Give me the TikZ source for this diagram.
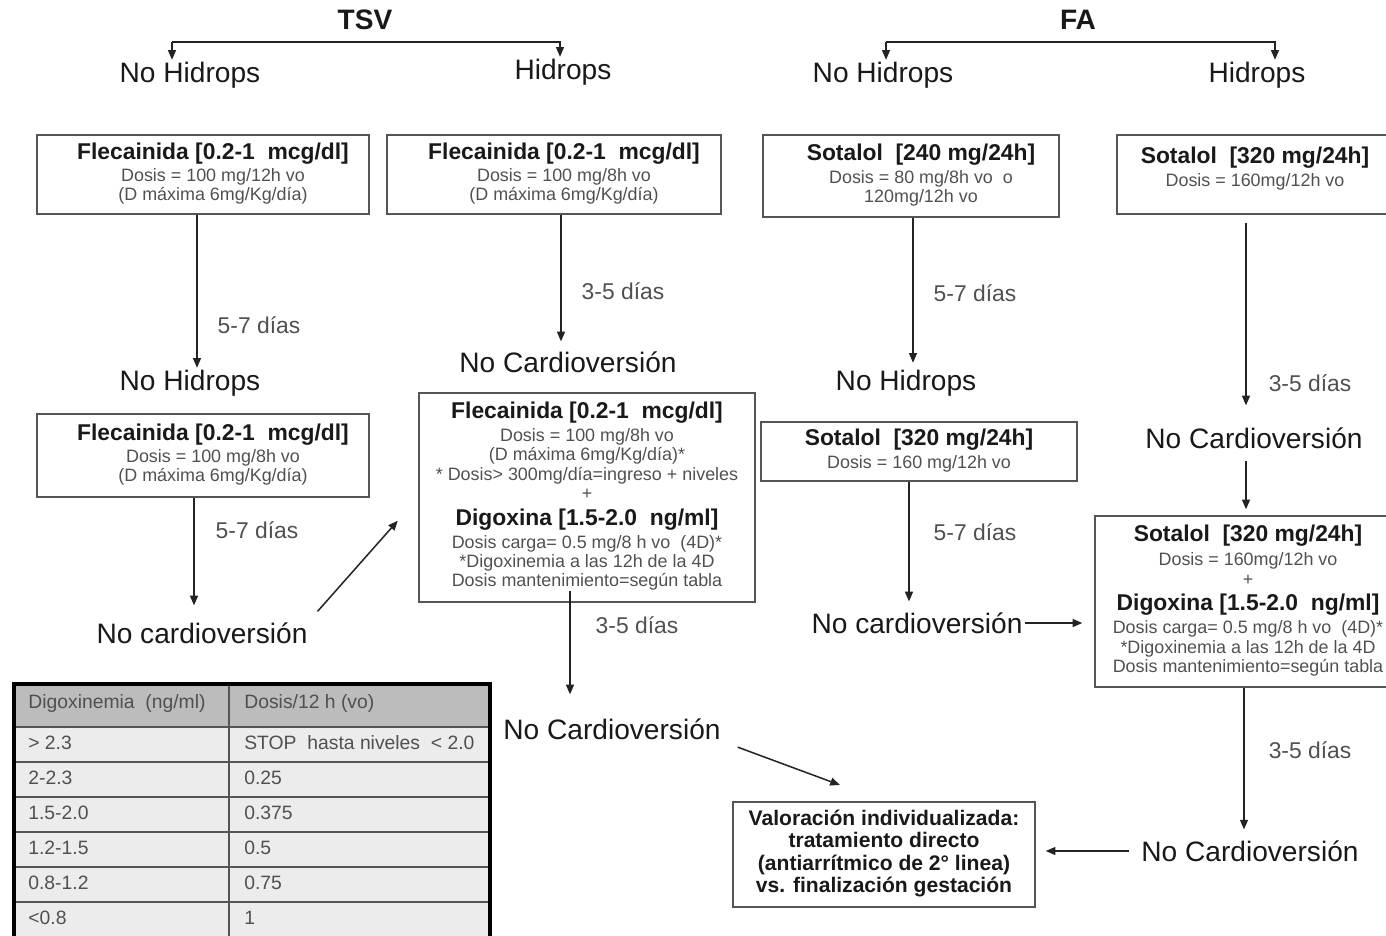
\documentclass[tikz,border=0pt]{standalone}
\usepackage{fontspec}
\setmainfont{Liberation Sans}
\usepackage{xcolor}
\definecolor{colorl}{RGB}{35,35,35}
\definecolor{colorb}{RGB}{85,85,85}
\definecolor{colord}{RGB}{80,80,80}
\definecolor{colork}{RGB}{25,25,25}
\definecolor{colorh}{RGB}{188,188,188}
\definecolor{colorf}{RGB}{236,236,236}
\usepackage{tikz}
\usetikzlibrary{arrows.meta}
\newlength{\px}\setlength{\px}{0.02cm}
\newcommand{\tit}[1]{{\color{colork}\fontsize{13}{15}\selectfont\bfseries #1}}
\newcommand{\bloque}[2][0]{\hspace*{#1\px}\begin{tabular}{@{}c@{}}#2\end{tabular}}
\tikzstyle{caja} = [draw=colorb, line width=1.4\px, inner sep=0pt, text=colord, font=\fontsize{10.2}{11}\selectfont]
\tikzstyle{etiq} = [inner sep=1pt, text=colork, font=\fontsize{16}{18}\selectfont]
\tikzstyle{dias} = [inner sep=1pt, text=colord, font=\fontsize{13}{15}\selectfont]
\tikzstyle{flecha} = [-{Triangle[length=5.5pt,width=4.5pt]}, line width=1.5\px, draw=colorl]
\tikzstyle{celda} = [inner sep=0pt, anchor=west, text=colord, font=\fontsize{11}{13}\selectfont]

\begin{document}
\begin{tikzpicture}[x=0.02cm, y=-0.02cm]
    \useasboundingbox (0,0) rectangle (1386,936);

    % cabeceras
    \node[etiq, font=\fontsize{16}{18}\selectfont\bfseries] (tsv) at (365,20) {TSV};
    \node[etiq, font=\fontsize{16}{18}\selectfont\bfseries] (fa) at (1078,20) {FA};
    \node[etiq] (nh1) at (190,75) {No Hidrops};
    \node[etiq] (h1) at (563,72) {Hidrops};
    \node[etiq] (nh3) at (883,75) {No Hidrops};
    \node[etiq] (h2) at (1257,75) {Hidrops};
    \coordinate (tsvl) at (172,42);
    \coordinate (tsvr) at (560,42);
    \coordinate (fal) at (886,42);
    \coordinate (far) at (1275,42);
    \draw[flecha] (tsvl) -- (tsvl |- nh1.north);
    \draw[flecha] (tsvl) -- (tsvr) -- (tsvr |- h1.north);
    \draw[flecha] (fal) -- (fal |- nh3.north);
    \draw[flecha] (fal) -- (far) -- (far |- h2.north);

    % TSV
    \node[caja, minimum width=332\px, minimum height=79\px] (a1) at (203,174.5)
      {\bloque[20]{\tit{Flecainida [0.2-1\ \ mcg/dl]}\\[1.5pt] Dosis = 100 mg/12h vo\\ (D máxima 6mg/Kg/día)}};
    \node[caja, minimum width=334\px, minimum height=79\px] (a2) at (554,174.5)
      {\bloque[20]{\tit{Flecainida [0.2-1\ \ mcg/dl]}\\[1.5pt] Dosis = 100 mg/8h vo\\ (D máxima 6mg/Kg/día)}};
    \node[etiq] (nh2) at (190,383) {No Hidrops};
    \node[etiq] (nc1) at (568,362) {No Cardioversión};
    \node[caja, minimum width=332\px, minimum height=83\px] (a3) at (203,455.5)
      {\bloque[20]{\tit{Flecainida [0.2-1\ \ mcg/dl]}\\[1.5pt] Dosis = 100 mg/8h vo\\ (D máxima 6mg/Kg/día)}};
    \node[etiq] (nc2) at (202,633) {No cardioversión};
    \node[caja, minimum width=336\px, minimum height=209\px] (c) at (587,497.5)
      {\bloque{\tit{Flecainida [0.2-1\ \ mcg/dl]}\\[2pt] Dosis = 100 mg/8h vo\\ (D máxima 6mg/Kg/día)*\\ {*} Dosis> 300mg/día=ingreso + niveles\\ +\\[2pt]
       \tit{Digoxina [1.5-2.0\ \ ng/ml]}\\[2pt] Dosis carga= 0.5 mg/8 h vo\ \ (4D)*\\ {*}Digoxinemia a las 12h de la 4D\\ Dosis mantenimiento=según tabla}};
    \node[etiq] (nc4) at (612,729) {No Cardioversión};

    % FA
    \node[caja, minimum width=296\px, minimum height=82\px] (b1) at (911,176)
      {\bloque[20]{\tit{Sotalol\ \ [240 mg/24h]}\\[2pt] Dosis = 80 mg/8h vo\ \ o\\ 120mg/12h vo}};
    \node[caja, minimum width=276\px, minimum height=79\px] (b2) at (1255,174.5)
      {\bloque{\tit{Sotalol\ \ [320 mg/24h]}\\[2pt] Dosis = 160mg/12h vo\\[6pt]}};
    \node[etiq] (nh4) at (906,383) {No Hidrops};
    \node[etiq] (nc3) at (1254,438) {No Cardioversión};
    \node[caja, minimum width=316\px, minimum height=59\px] (d1) at (919,451.5)
      {\bloque{\tit{Sotalol\ \ [320 mg/24h]}\\[2pt] Dosis = 160 mg/12h vo}};
    \node[etiq] (nc5) at (917,623) {No cardioversión};
    \node[caja, minimum width=306\px, minimum height=171\px] (d2) at (1248,601.5)
      {\bloque{\tit{Sotalol\ \ [320 mg/24h]}\\[3pt] Dosis = 160mg/12h vo\\ +\\[1.5pt]
       \tit{Digoxina [1.5-2.0\ \ ng/ml]}\\[2.5pt] Dosis carga= 0.5 mg/8 h vo\ \ (4D)*\\ {*}Digoxinemia a las 12h de la 4D\\ Dosis mantenimiento=según tabla}};
    \node[etiq] (nc6) at (1250,851) {No Cardioversión};
    \node[caja, text=colork, font=\fontsize{12}{12.7}\selectfont\bfseries, minimum width=302\px, minimum height=105\px] (e) at (884,854.5)
      {\bloque{Valoración individualizada:\\ tratamiento directo\\ (antiarrítmico de 2° linea)\\ vs. finalización gestación}};

    % dias
    \node[dias] (t1) at (259,325) {5-7 días};
    \node[dias] (t2) at (623,291) {3-5 días};
    \node[dias] (t3) at (975,293) {5-7 días};
    \node[dias] (t4) at (1310,383) {3-5 días};
    \node[dias] (t5) at (257,530) {5-7 días};
    \node[dias] (t6) at (637,625) {3-5 días};
    \node[dias] (t7) at (975,532) {5-7 días};
    \node[dias] (t8) at (1310,750) {3-5 días};

    % flechas
    \draw[flecha] (a1.south -| 197,0) -- (nh2.north -| 197,0);
    \draw[flecha, shorten >=8\px] (a2.south -| 561,0) -- (nc1.north -| 561,0);
    \draw[flecha, shorten >=5\px] (b1.south -| 913,0) -- (nh4.north -| 913,0);
    \draw[flecha, shorten >=20\px] (b2.south -| 1246,0) ++(0,8) -- (nc3.north -| 1246,0);
    \draw[flecha, shorten >=6\px] (nc3.south -| 1246,0) ++(0,10) -- (d2.north -| 1246,0);
    \draw[flecha, shorten >=15\px] (a3.south -| 194,0) -- (nc2.north -| 194,0);
    \draw[flecha, shorten <=12\px, shorten >=31\px] (nc2.north east) -- (c.west);
    \draw[flecha, shorten >=22\px] (c.south -| 570,0) ++(0,-12) -- (nc4.north -| 570,0);
    \draw[flecha, shorten <=16\px, shorten >=47\px] (nc4.south east) -- (e.north);
    \draw[flecha, shorten >=9\px] (d1.south -| 909,0) -- (nc5.north -| 909,0);
    \draw[flecha, shorten >=12\px] (nc5.east) -- (nc5.east -| d2.west);
    \draw[flecha, shorten >=9\px] (d2.south -| 1244,0) -- (nc6.north -| 1244,0);
    \draw[flecha, shorten <=10\px, shorten >=10\px] (nc6.west) -- (nc6.west -| e.east);

    % tabla digoxinemia
    \fill[colorh] (14,684) rectangle (490,727);
    \foreach \i in {1,...,6}
      \fill[colorf] (14,{727+35*(\i-1)}) rectangle (490,{727+35*\i});
    \foreach \i in {0,...,5}
      \draw[colorb, line width=2\px] (14,{727+35*\i}) -- (490,{727+35*\i});
    \draw[colorb, line width=1.5\px] (229,684) -- (229,940);
    \draw[black, line width=3.5\px] (14,940) -- (14,684) -- (490,684) -- (490,940);
    \node[celda] (dg0) at (28,703) {Digoxinemia\ \ (ng/ml)};
    \node[celda] (ds0) at (244,703) {Dosis/12 h (vo)};
    \foreach \dg/\ds [count=\i] in {{> 2.3}/{STOP\ \ hasta niveles\ \ < 2.0}, {2-2.3}/{0.25},
        {1.5-2.0}/{0.375}, {1.2-1.5}/{0.5}, {0.8-1.2}/{0.75}, {<0.8}/{1}} {
      \node[celda] (dg\i) at (28,{743+35*(\i-1)}) {\dg};
      \node[celda] (ds\i) at (244,{743+35*(\i-1)}) {\ds};
    }
\end{tikzpicture}
\end{document}
